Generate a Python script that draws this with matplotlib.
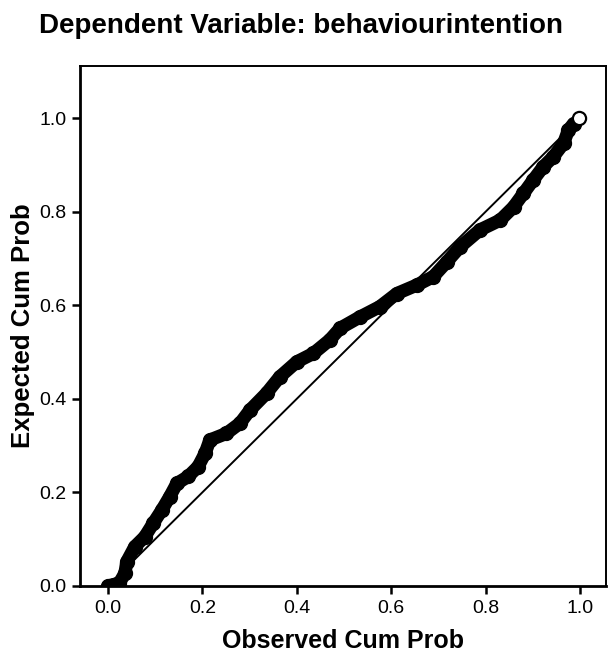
import matplotlib
matplotlib.use('Agg')
import matplotlib.pyplot as plt

# P-P plot (observed cum prob, expected cum prob)
observed = [0.0, 0.012, 0.024, 0.036, 0.040, 0.057, 0.078, 0.096, 0.114, 0.131,
            0.146, 0.170, 0.191, 0.206, 0.216, 0.251, 0.280, 0.301, 0.336, 0.364,
            0.400, 0.435, 0.470, 0.492, 0.534, 0.576, 0.612, 0.654, 0.689, 0.718,
            0.746, 0.788, 0.831, 0.859, 0.880, 0.901, 0.922, 0.943, 0.965, 0.975,
            0.986, 0.997]
expected = [0.0, 0.003, 0.006, 0.027, 0.052, 0.084, 0.105, 0.134, 0.162, 0.191,
            0.219, 0.234, 0.255, 0.284, 0.312, 0.326, 0.348, 0.376, 0.412, 0.447,
            0.479, 0.497, 0.526, 0.551, 0.575, 0.597, 0.625, 0.643, 0.661, 0.693,
            0.725, 0.761, 0.782, 0.810, 0.839, 0.868, 0.896, 0.917, 0.946, 0.974,
            0.988, 1.0]
ref_line = [0.0, 1.0]
ticks = [0.0, 0.2, 0.4, 0.6, 0.8, 1.0]
tick_labels = ['0.0', '0.2', '0.4', '0.6', '0.8', '1.0']

plt.rcParams['font.family'] = ['Liberation Sans', 'DejaVu Sans']

fig = plt.figure(figsize=(6.11, 6.61), dpi=100)
ax = fig.add_axes([0.131, 0.1135, 0.861, 0.7865])

ax.plot(ref_line, ref_line, color='black', lw=1.4, zorder=2)
# dense overlapping circles look like a solid band
ax.plot(observed[:-1], expected[:-1], color='black', lw=9.5, solid_capstyle='round', zorder=3)
ax.plot(observed[:-1], expected[:-1], 'o', ms=10, mfc='black', mec='black', zorder=4)
ax.plot(observed[-1:], expected[-1:], 'o', ms=9.5, mfc='white', mec='black', mew=1.6, zorder=5)

ax.set_xlim(-0.059, 1.055)
ax.set_ylim(0.0, 1.111)
ax.set_xticks(ticks)
ax.set_xticklabels(tick_labels)
ax.set_yticks(ticks)
ax.set_yticklabels(tick_labels)
ax.tick_params(direction='out', length=6, width=1.8, labelsize=14, pad=4)

for side in ['left', 'bottom']:
    ax.spines[side].set_linewidth(2.0)
for side in ['top', 'right']:
    ax.spines[side].set_linewidth(1.4)

ax.set_xlabel('Observed Cum Prob', fontsize=18, fontweight='bold', labelpad=9)
ax.set_ylabel('Expected Cum Prob', fontsize=18.5, fontweight='bold', labelpad=3)
fig.text(0.492, 0.961, 'Dependent Variable: behaviourintention', fontsize=20,
         fontweight='bold', ha='center', va='center')

fig.savefig('out.png', dpi=100)
